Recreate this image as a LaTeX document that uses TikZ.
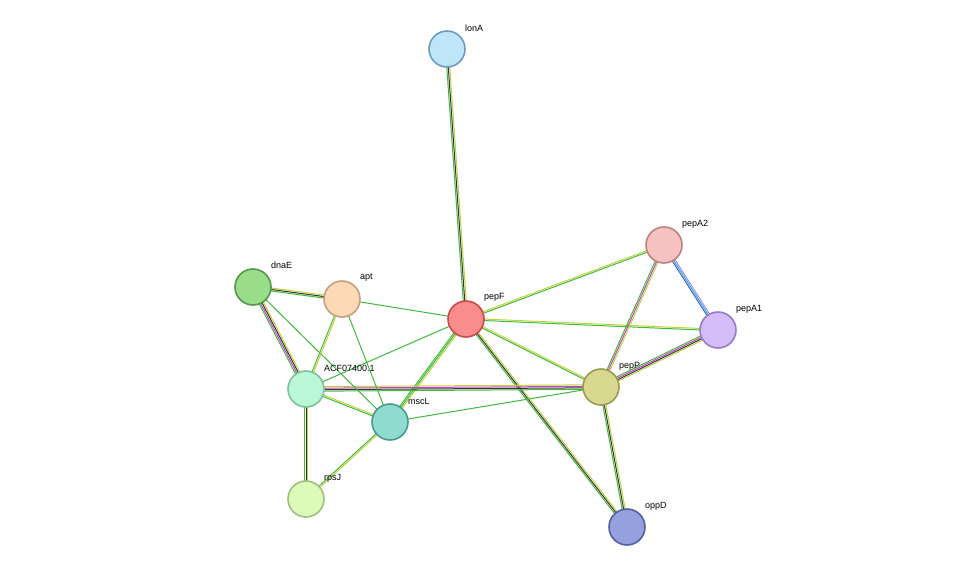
\documentclass[tikz,border=0pt]{standalone}
\usepackage{fontspec}
\setmainfont{Liberation Sans}
\usetikzlibrary{calc,backgrounds}

\definecolor{cNb}{HTML}{3DBB3D}
\definecolor{cTm}{HTML}{C2D23A}
\definecolor{cCo}{HTML}{333333}
\definecolor{cEx}{HTML}{C93EC9}
\definecolor{cDb}{HTML}{33A8E0}
\definecolor{cHo}{HTML}{A898DC}
\definecolor{cBl}{HTML}{3E60D0}

\tikzset{
  prot/.style={circle, draw, line width=1.6pt, minimum size=36pt, inner sep=0pt},
  lab/.style={anchor=west, font=\fontsize{9}{10}\selectfont, inner sep=0pt},
  edge/.style={line width=1pt}
}

% one line per colour, side by side
\newcommand\edge[4]{%
  \foreach \c [count=\i] in {#4}{%
    \pgfmathsetmacro\off{(\i-(#3+1)/2)*1.5}
    \draw[edge, \c] ($(#1)!\off pt!90:(#2)$) -- ($(#2)!\off pt!-90:(#1)$);
  }%
}

\begin{document}
\begin{tikzpicture}[x=1pt, y=-1pt]
\useasboundingbox (0,0) rectangle (975,573);

\node[prot, fill={rgb,255:red,191;green,230;blue,247}, draw={rgb,255:red,111;green,155;blue,192}] (lonA) at (447,49) {};
\node[prot, fill={rgb,255:red,246;green,194;blue,194}, draw={rgb,255:red,192;green,128;blue,128}] (pepA2) at (664,245) {};
\node[prot, fill={rgb,255:red,212;green,188;blue,249}, draw={rgb,255:red,150;green,125;blue,200}] (pepA1) at (718,330) {};
\node[prot, fill={rgb,255:red,153;green,221;blue,136}, draw={rgb,255:red,85;green,150;blue,75}] (dnaE) at (253,287) {};
\node[prot, fill={rgb,255:red,253;green,217;blue,181}, draw={rgb,255:red,196;green,160;blue,128}] (apt) at (342,299) {};
\node[prot, fill={rgb,255:red,251;green,140;blue,140}, draw={rgb,255:red,200;green,74;blue,74}] (pepF) at (466,319) {};
\node[prot, fill={rgb,255:red,185;green,247;blue,214}, draw={rgb,255:red,128;green,192;blue,160}] (acf) at (306,389) {};
\node[prot, fill={rgb,255:red,216;green,216;blue,144}, draw={rgb,255:red,154;green,154;blue,80}] (pepP) at (601,387) {};
\node[prot, fill={rgb,255:red,143;green,219;blue,208}, draw={rgb,255:red,74;green,154;blue,144}] (mscL) at (390,422) {};
\node[prot, fill={rgb,255:red,220;green,251;blue,185}, draw={rgb,255:red,160;green,192;blue,128}] (rpsJ) at (306,499) {};
\node[prot, fill={rgb,255:red,149;green,160;blue,222}, draw={rgb,255:red,85;green,96;blue,160}] (oppD) at (627,527) {};

\node[lab] at (465,28) {lonA};
\node[lab] at (682,224) {pepA2};
\node[lab] at (736,309) {pepA1};
\node[lab] at (271,265) {dnaE};
\node[lab] at (360,278) {apt};
\node[lab] at (484,297) {pepF};
\node[lab] at (324,368) {ACF07400.1};
\node[lab] at (619,366) {pepP};
\node[lab] at (408,401) {mscL};
\node[lab] at (324,478) {rpsJ};
\node[lab] at (645,506) {oppD};

\begin{scope}[on background layer]
\edge{lonA}{pepF}{3}{cNb,cCo,cTm}
\edge{pepF}{pepA2}{2}{cNb,cTm}
\edge{pepF}{pepA1}{2}{cNb,cTm}
\edge{pepF}{pepP}{2}{cNb,cTm}
\edge{pepF}{oppD}{3}{cNb,cCo,cTm}
\edge{pepF}{apt}{1}{cNb}
\edge{pepF}{acf}{1}{cNb}
\edge{pepF}{mscL}{3}{cNb,cNb,cTm}
\edge{pepA2}{pepA1}{3}{cBl,cDb,cHo}
\edge{pepA2}{pepP}{3}{cNb,cEx,cTm}
\edge{pepA1}{pepP}{4}{cNb,cEx,cCo,cTm}
\edge{pepP}{oppD}{3}{cNb,cCo,cTm}
\edge{acf}{pepP}{4}{cNb,cCo,cEx,cTm}
\edge{mscL}{pepP}{1}{cNb}
\edge{dnaE}{apt}{3}{cNb,cCo,cTm}
\edge{dnaE}{acf}{4}{cNb,cEx,cCo,cTm}
\edge{dnaE}{mscL}{1}{cNb}
\edge{apt}{acf}{2}{cNb,cTm}
\edge{apt}{mscL}{1}{cNb}
\edge{acf}{mscL}{2}{cNb,cTm}
\edge{acf}{rpsJ}{3}{cNb,cCo,cTm}
\edge{mscL}{rpsJ}{2}{cNb,cTm}
\end{scope}
\end{tikzpicture}
\end{document}
